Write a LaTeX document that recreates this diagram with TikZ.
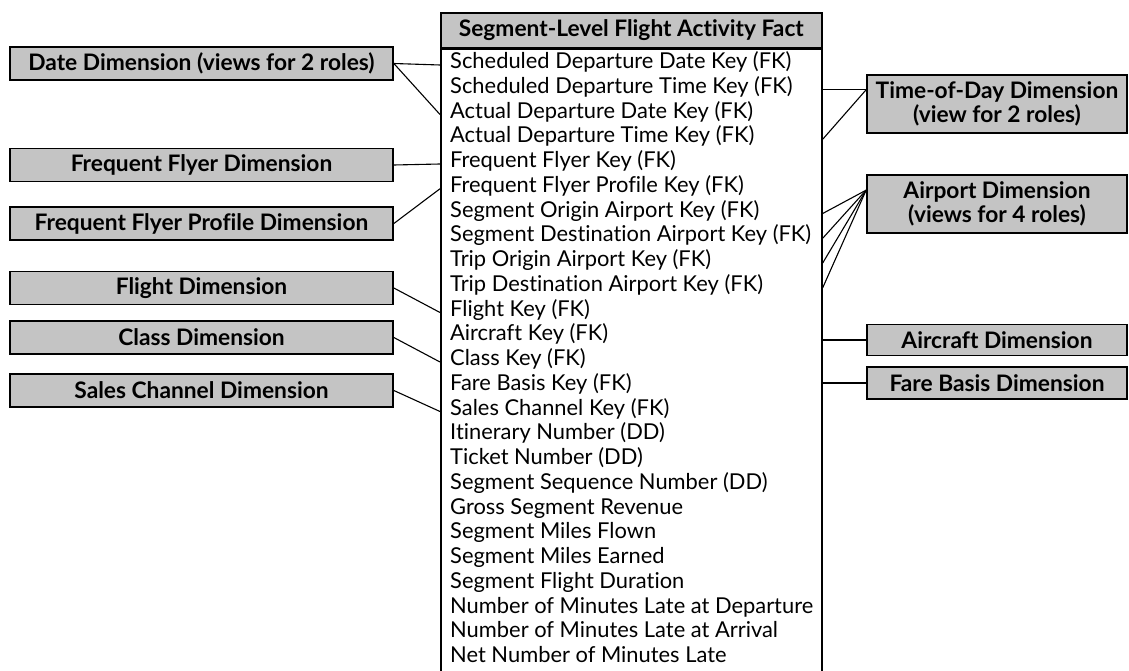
\documentclass[tikz,border=0pt]{standalone}
\usepackage{fontspec}
\setmainfont{Lato}[Ligatures={NoCommon}]
\newlength\wa
\newlength\wb
\definecolor{boxgray}{RGB}{196,196,196}
\begin{document}
\settowidth\wa{\fontsize{10}{12}\selectfont Number of Minutes Late at Departure}%
\settowidth\wb{\fontsize{10}{12}\selectfont\bfseries Segment-Level Flight Activity Fact}%
\pgfmathsetmacro\fs{10*363/\wa}%
\pgfmathsetmacro\fb{10*345/\wb}%
\begin{tikzpicture}[x=1pt,y=-1pt]
\tikzset{
  body/.style={font=\fontsize{\fs}{\fs}\selectfont, inner sep=0pt, anchor=west, text height=0.72em, text depth=0pt},
  dim/.style={draw, fill=boxgray, line width=1.7pt, inner sep=0pt, align=center,
    font=\fontsize{\fb}{24.5}\selectfont\bfseries, minimum height=33pt},
  ldim/.style={dim, minimum width=383pt},
  rdim/.style={dim, minimum width=260pt},
  conn/.style={line width=1.1pt}
}
\useasboundingbox (0,0) rectangle (1129,671);
% fact table
\node[dim, minimum width=381pt, minimum height=35pt, anchor=north west] (hdr) at (440,12) {Segment-Level Flight Activity Fact};
\node[draw, line width=1.7pt, minimum width=381pt, minimum height=640pt, anchor=north west, inner sep=0pt] (fact) at (hdr.south west) {};
\foreach \t [count=\i] in {
 Scheduled Departure Date Key (FK),
 Scheduled Departure Time Key (FK),
 Actual Departure Date Key (FK),
 Actual Departure Time Key (FK),
 Frequent Flyer Key (FK),
 Frequent Flyer Profile Key (FK),
 Segment Origin Airport Key (FK),
 Segment Destination Airport Key (FK),
 Trip Origin Airport Key (FK),
 Trip Destination Airport Key (FK),
 Flight Key (FK),
 Aircraft Key (FK),
 Class Key (FK),
 Fare Basis Key (FK),
 Sales Channel Key (FK),
 Itinerary Number (DD),
 Ticket Number (DD),
 Segment Sequence Number (DD),
 Gross Segment Revenue,
 Segment Miles Flown,
 Segment Miles Earned,
 Segment Flight Duration,
 Number of Minutes Late at Departure,
 Number of Minutes Late at Arrival,
 Net Number of Minutes Late}
 { \node[body] (r\i) at (450, {65+(\i-1)*24.75}) {\t}; }
% left dimensions
\node[ldim] (date) at (201.5,63.5) {Date Dimension (views for 2 roles)};
\node[ldim] (ff) at (201.5,165) {Frequent Flyer Dimension};
\node[ldim] (ffp) at (201.5,223.5) {Frequent Flyer Profile Dimension};
\node[ldim] (flight) at (201.5,288) {Flight Dimension};
\node[ldim] (class) at (201.5,337.5) {Class Dimension};
\node[ldim] (sales) at (201.5,390.5) {Sales Channel Dimension};
% right dimensions
\node[rdim, minimum height=58pt] (tod) at (997,104) {Time-of-Day Dimension\\(view for 2 roles)};
\node[rdim, minimum height=58pt] (airport) at (997,204) {Airport Dimension\\(views for 4 roles)};
\node[rdim, minimum height=31pt] (aircraft) at (997,340) {Aircraft Dimension};
\node[rdim, minimum height=32pt] (fare) at (997,383) {Fare Basis Dimension};
\coordinate (ap) at ([yshift=-16pt]airport.north west);
% connectors left
\draw[conn] (date.east) -- (fact.west |- r1.west);
\draw[conn] (date.east) -- (fact.west |- r3.west);
\draw[conn] (ff.east) -- (fact.west |- r5.west);
\draw[conn] (ffp.east) -- (fact.west |- r6.west);
\draw[conn] (flight.east) -- (fact.west |- r11.west);
\draw[conn] (class.east) -- (fact.west |- r13.west);
\draw[conn] (sales.east) -- (fact.west |- r15.west);
% connectors right
\draw[conn] (fact.east |- r2.west) -- (tod.west |- r2.west);
\draw[conn] (fact.east |- r4.west) -- (tod.west |- r2.west);
\foreach \k in {7,8,9,10} { \draw[conn] (fact.east |- r\k.west) -- (ap); }
\draw[conn] (fact.east |- aircraft.west) -- (aircraft.west);
\draw[conn] (fact.east |- fare.west) -- (fare.west);
\end{tikzpicture}
\end{document}
